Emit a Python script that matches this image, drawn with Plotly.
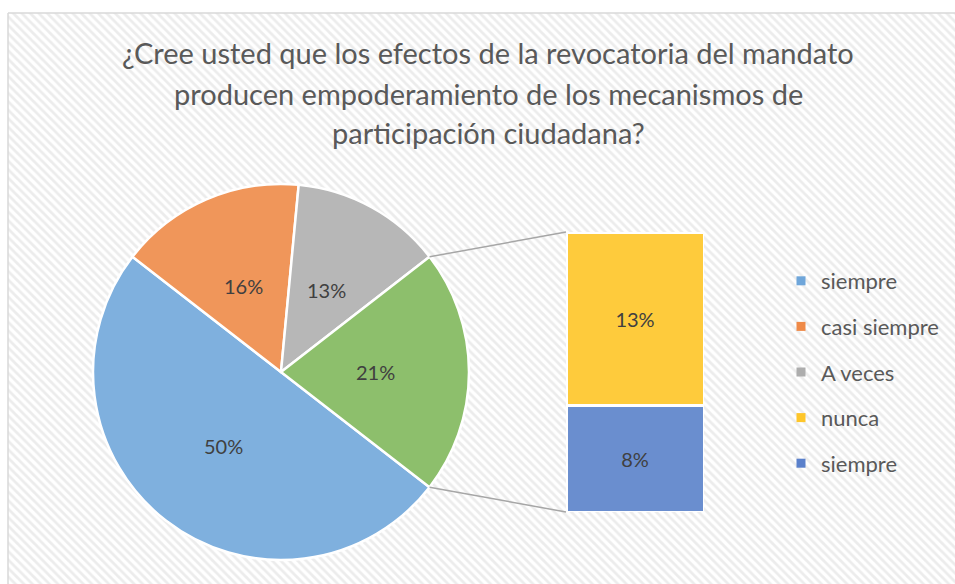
import math
import plotly.graph_objects as go

W, H = 955, 584

# ---------------- data ----------------
title_lines = [
    "¿Cree usted que los efectos de la revocatoria del mandato",
    "producen empoderamiento de los mecanismos de",
    "participación ciudadana?",
]
pie_labels = ["siempre", "casi siempre", "A veces"]
pie_values = [50, 16, 13]
bar_labels = ["siempre", "nunca"]          # bottom -> top of the stacked bar
bar_values = [8, 13]
legend_labels = ["siempre", "casi siempre", "A veces", "nunca", "siempre"]

# ---------------- styles ----------------
pie_colors = ["#7fb0de", "#f0965a", "#b7b7b7", "#8dbf6c"]
bar_colors = ["#6a8ecf", "#fecb3c"]
legend_colors = ["#6fa6da", "#ef8a48", "#adadad", "#fec62a", "#5a80cb"]
FONT = "Lato"

def px(x):
    return x / W

def py(y):
    return 1 - y / H

other_value = sum(bar_values)
all_pie_values = pie_values + [other_value]
all_pie_labels = pie_labels + ["Otros"]
total = sum(all_pie_values)

# pie geometry (pixels)
pie_x0, pie_x1, pie_y0, pie_y1 = 93, 469, 184, 560
cx, cy = (pie_x0 + pie_x1) / 2, (pie_y0 + pie_y1) / 2
R = min(pie_x1 - pie_x0, pie_y1 - pie_y0) / 2
half_other = other_value / total * 180.0         # degrees
rotation = 90 + half_other                        # first slice starts below 3 o'clock

# bar geometry (pixels)
bar_x0, bar_x1, bar_y0, bar_y1 = 566, 704, 232, 512

fig = go.Figure()

# hatched chart-area background
bg_x0, bg_y0 = px(8), py(13)
fig.add_trace(go.Scatter(
    x=[bg_x0, 1.01, 1.01, bg_x0, bg_x0], y=[-0.01, -0.01, bg_y0, bg_y0, -0.01],
    mode="lines", fill="toself", line=dict(width=0),
    fillcolor="white",
    fillpattern=dict(shape="\\", size=6, solidity=0.45, fgcolor="#d9d9d9", bgcolor="white"),
    hoverinfo="skip", showlegend=False, xaxis="x", yaxis="y",
))

# pie
fig.add_trace(go.Pie(
    labels=all_pie_labels, values=all_pie_values, sort=False,
    direction="clockwise", rotation=rotation,
    marker=dict(colors=pie_colors, line=dict(color="white", width=2.5)),
    textinfo="none", hoverinfo="label+percent", showlegend=False,
    domain=dict(x=[px(pie_x0), px(pie_x1)], y=[py(pie_y1), py(pie_y0)]),
))

# stacked bar
for lab, val, col in zip(bar_labels, bar_values, bar_colors):
    fig.add_trace(go.Bar(
        x=[0], y=[val], name=lab, width=1,
        marker=dict(color=col, line=dict(color="white", width=3)),
        text=[f"{val}%"], textposition="inside", insidetextanchor="middle",
        textfont=dict(family=FONT, size=20, color="#404040"),
        showlegend=False, xaxis="x2", yaxis="y2",
    ))

# legend entries
for i, (lab, col) in enumerate(zip(legend_labels, legend_colors)):
    fig.add_trace(go.Scatter(
        x=[None], y=[None], mode="markers", name=lab,
        marker=dict(symbol="square", size=9, color=col),
        legendgroup=f"g{i}", showlegend=True, xaxis="x", yaxis="y",
    ))

annotations = []
# title
title_y = [52, 94, 132]
for line, yy in zip(title_lines, title_y):
    annotations.append(dict(
        text=line, x=px(488), y=py(yy), xref="paper", yref="paper",
        xanchor="center", yanchor="middle", showarrow=False,
        font=dict(family=FONT, size=29, color="#595959"),
    ))

# pie labels at half radius on the slice mid-angle
ang = rotation
for v in all_pie_values:
    span = v / total * 360.0
    mid = math.radians(ang + span / 2)
    lx = cx + 0.5 * R * math.sin(mid)
    ly = cy - 0.5 * R * math.cos(mid)
    annotations.append(dict(
        text=f"{round(v / total * 100)}%", x=px(lx), y=py(ly),
        xref="paper", yref="paper", showarrow=False,
        xanchor="center", yanchor="middle",
        font=dict(family=FONT, size=20, color="#404040"),
    ))
    ang += span

# connector lines from the "other" slice edges to the bar corners
t = math.radians(half_other)
top_pt = (cx + R * math.cos(t), cy - R * math.sin(t))
bot_pt = (cx + R * math.cos(t), cy + R * math.sin(t))
shapes = [
    dict(type="line", xref="paper", yref="paper",
         x0=px(top_pt[0]), y0=py(top_pt[1]), x1=px(bar_x0), y1=py(bar_y0),
         line=dict(color="#a6a6a6", width=1.5)),
    dict(type="line", xref="paper", yref="paper",
         x0=px(bot_pt[0]), y0=py(bot_pt[1]), x1=px(bar_x0), y1=py(bar_y1),
         line=dict(color="#a6a6a6", width=1.5)),
    # chart-area border (top and left)
    dict(type="line", xref="paper", yref="paper", x0=bg_x0, y0=bg_y0, x1=1.01, y1=bg_y0,
         line=dict(color="#d9d9d9", width=1.5)),
    dict(type="line", xref="paper", yref="paper", x0=bg_x0, y0=bg_y0, x1=bg_x0, y1=-0.01,
         line=dict(color="#d9d9d9", width=1.5)),
]

fig.update_layout(
    width=W, height=H,
    margin=dict(l=0, r=0, t=0, b=0),
    paper_bgcolor="white", plot_bgcolor="rgba(0,0,0,0)",
    barmode="stack",
    xaxis=dict(domain=[0, 1], range=[0, 1], visible=False, fixedrange=True),
    yaxis=dict(domain=[0, 1], range=[0, 1], visible=False, fixedrange=True),
    xaxis2=dict(domain=[px(bar_x0), px(bar_x1)], range=[-0.5, 0.5], visible=False, anchor="y2"),
    yaxis2=dict(domain=[py(bar_y1), py(bar_y0)], range=[0, sum(bar_values)], visible=False, anchor="x2"),
    legend=dict(
        x=px(781), y=py(260), xanchor="left", yanchor="top",
        bgcolor="rgba(0,0,0,0)", traceorder="grouped", tracegroupgap=14,
        font=dict(family=FONT, size=22, color="#595959"),
    ),
    annotations=annotations,
    shapes=shapes,
    showlegend=True,
)

fig.write_html(
    "out.html",
    config={"displayModeBar": False},
    post_script="document.body.style.margin='0';document.body.style.overflow='hidden';",
)
